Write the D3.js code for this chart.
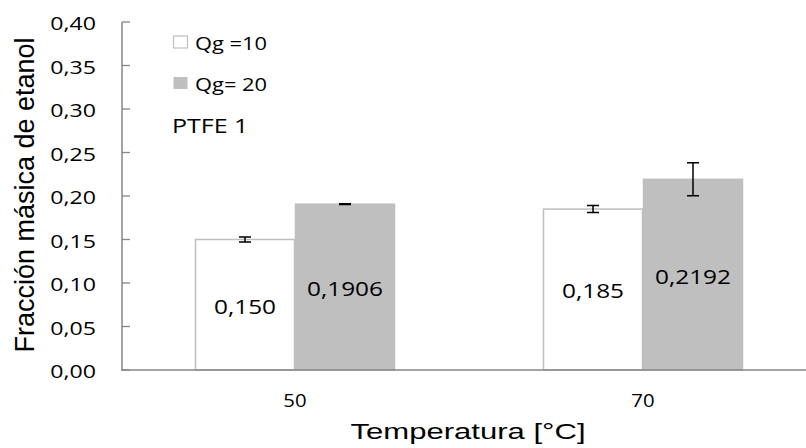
<!DOCTYPE html>
<html>
<head>
<meta charset="utf-8">
<script src="https://cdn.jsdelivr.net/npm/d3@7"></script>
<style>
  body { margin: 0; background: #fff; }
  svg { display: block; }
</style>
</head>
<body>
<div id="chart"></div>
<script>
// data
const categories = ["50", "70"];
const seriesNames = ["Qg =10", "Qg= 20"];
const qg10 = [0.150, 0.185];
const qg20 = [0.1906, 0.2192];
const err10 = [0.003, 0.004];
const err20 = [0.0005, 0.019];
const labelDecimals = [3, 4];
const yTicks = [0, 0.05, 0.10, 0.15, 0.20, 0.25, 0.30, 0.35, 0.40];
const note = "PTFE 1";

const width = 806, height = 448;
const stretch = 1.25; // horizontal text in the picture is wider than normal

const seriesValues = [qg10, qg20];
const seriesErr = [err10, err20];
const fills = ["#ffffff", "#bfbfbf"];
const strokes = ["#bfbfbf", "#bfbfbf"];

const svg = d3.select("#chart").append("svg")
    .attr("width", width)
    .attr("height", height);

const y = d3.scaleLinear().domain([0, 0.4]).range([370, 22]);
const x0 = d3.scaleBand().domain(categories).range([121, 817]);
const x1 = d3.scaleBand().domain(seriesNames).range([74, 274]);

function sx(sel, k) {
  k = k || stretch;
  return sel.attr("transform", function() {
    const t = d3.select(this);
    return "translate(" + t.attr("data-x") + "," + t.attr("data-y") + ") scale(" + k + ",1)";
  });
}

// y axis
svg.append("line")
    .attr("x1", 122).attr("x2", 122)
    .attr("y1", y(0.4)).attr("y2", y(0))
    .attr("stroke", "#868686").attr("stroke-width", 1.5);

svg.selectAll(".ytick")
    .data(yTicks)
  .enter().append("line")
    .attr("class", "ytick")
    .attr("x1", 122).attr("x2", 130)
    .attr("y1", d => y(d)).attr("y2", d => y(d))
    .attr("stroke", "#868686").attr("stroke-width", 1.3);

svg.selectAll(".ylab")
    .data(yTicks)
  .enter().append("text")
    .attr("class", "ylab")
    .attr("data-x", 96).attr("data-y", d => y(d) + 1)
    .attr("text-anchor", "end")
    .attr("dominant-baseline", "central")
    .attr("font-family", "Open Sans")
    .attr("font-size", 18.5)
    .attr("fill", "#000")
    .text(d => d.toFixed(2).replace(".", ","))
    .call(sx);

// bars
const groups = svg.selectAll(".grp")
    .data(categories)
  .enter().append("g")
    .attr("class", "grp")
    .attr("transform", d => "translate(" + x0(d) + ",0)");

seriesNames.forEach(function(s, si) {
  const bx = x1(s), bw = x1.bandwidth();
  groups.append("rect")
      .attr("x", bx + 0.5)
      .attr("width", bw - 1)
      .attr("y", (d, i) => y(seriesValues[si][i]))
      .attr("height", (d, i) => y(0) - y(seriesValues[si][i]))
      .attr("fill", fills[si])
      .attr("stroke", strokes[si])
      .attr("stroke-width", 1.5);

  // error bars
  const cx = bx + bw / 2;
  groups.append("path")
      .attr("d", function(d, i) {
        const v = seriesValues[si][i], e = seriesErr[si][i];
        const top = y(v + e), bot = y(v - e);
        return "M" + (cx - 6) + "," + top + "H" + (cx + 6) +
               "M" + cx + "," + top + "V" + bot +
               "M" + (cx - 6) + "," + bot + "H" + (cx + 6);
      })
      .attr("fill", "none")
      .attr("stroke", "#000")
      .attr("stroke-width", 1.5);

  // value labels in the middle of the bar
  groups.append("text")
      .attr("data-x", cx)
      .attr("data-y", (d, i) => (y(seriesValues[si][i]) + y(0)) / 2 + 1)
      .attr("text-anchor", "middle")
      .attr("dominant-baseline", "central")
      .attr("font-family", "Open Sans")
      .attr("font-size", 19.5)
      .attr("fill", "#000")
      .text((d, i) => seriesValues[si][i].toFixed(labelDecimals[si]).replace(".", ","))
      .call(sx);
});

// x axis
svg.append("line")
    .attr("x1", 121).attr("x2", width)
    .attr("y1", y(0)).attr("y2", y(0))
    .attr("stroke", "#868686").attr("stroke-width", 1.5);

svg.selectAll(".xlab")
    .data(categories)
  .enter().append("text")
    .attr("class", "xlab")
    .attr("data-x", d => x0(d) + x0.bandwidth() / 2)
    .attr("data-y", 400)
    .attr("text-anchor", "middle")
    .attr("dominant-baseline", "central")
    .attr("font-family", "Open Sans")
    .attr("font-size", 18.5)
    .attr("fill", "#000")
    .text(d => d)
    .call(sx, 1.1);

// axis titles
svg.append("text")
    .attr("data-x", 468).attr("data-y", 439)
    .attr("text-anchor", "middle")
    .attr("font-family", "Liberation Sans")
    .attr("font-size", 22.5)
    .attr("fill", "#000")
    .text("Temperatura [°C]")
    .call(sx, 1.38);

svg.append("text")
    .attr("transform", "translate(34,195) rotate(-90)")
    .attr("text-anchor", "middle")
    .attr("font-family", "Liberation Sans")
    .attr("font-size", 27)
    .attr("fill", "#000")
    .text("Fracción másica de etanol");

// legend
const legend = svg.append("g");
seriesNames.forEach(function(s, si) {
  const ly = 42 + si * 41;
  legend.append("rect")
      .attr("x", 173.5).attr("y", ly - 6)
      .attr("width", 14).attr("height", 12)
      .attr("fill", fills[si])
      .attr("stroke", si === 0 ? "#bfbfbf" : "none")
      .attr("stroke-width", 1.2);
  legend.append("text")
      .attr("data-x", 195).attr("data-y", ly + 1)
      .attr("dominant-baseline", "central")
      .attr("font-family", "Open Sans")
      .attr("font-size", 17.5)
      .attr("fill", "#000")
      .text(s)
      .call(sx);
});

svg.append("text")
    .attr("data-x", 172).attr("data-y", 125)
    .attr("dominant-baseline", "central")
    .attr("font-family", "Open Sans")
    .attr("font-size", 20)
    .attr("fill", "#000")
    .text(note)
    .call(sx);
</script>
</body>
</html>
